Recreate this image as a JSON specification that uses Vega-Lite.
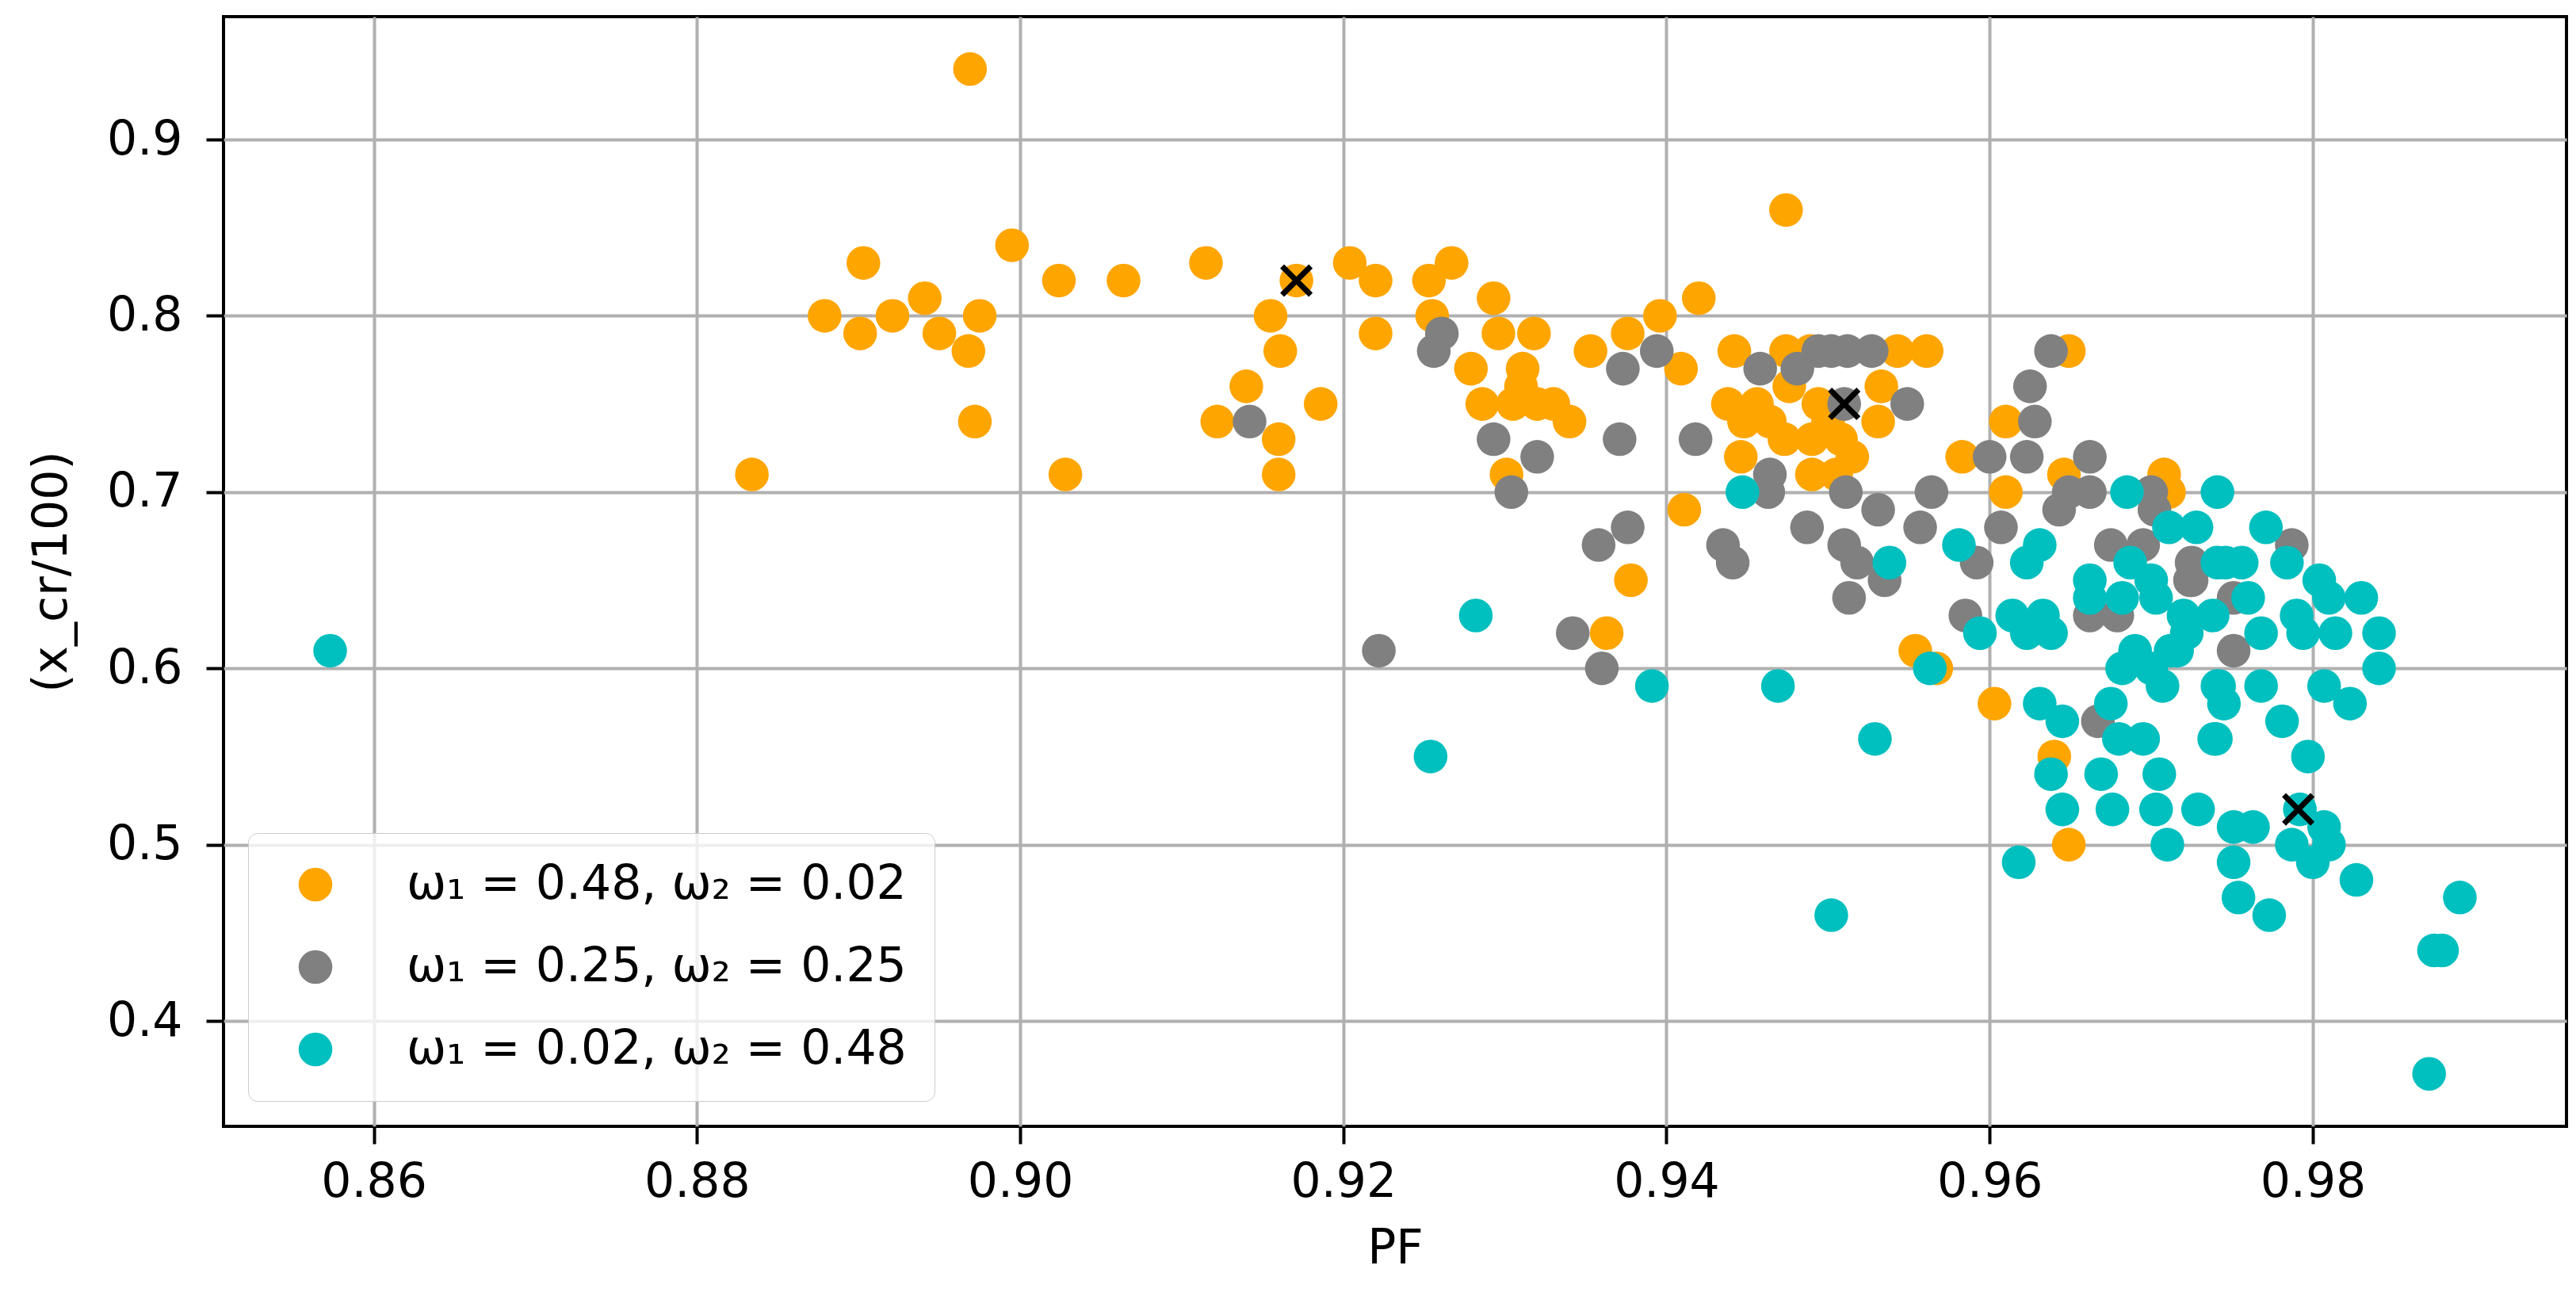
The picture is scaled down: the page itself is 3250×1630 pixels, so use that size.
{
  "$schema": "https://vega.github.io/schema/vega-lite/v6.json",
  "width": 2956,
  "height": 1400,
  "autosize": {"type": "none"},
  "padding": {"left": 282, "top": 21, "right": 12, "bottom": 209},
  "background": "white",
  "config": {
    "font": "DejaVu Sans",
    "view": {"stroke": "black", "strokeWidth": 4}
  },
  "datasets": {
    "pts": [
      {"w":"ω₁ = 0.48, ω₂ = 0.02","PF":0.8834,"x":0.71},{"w":"ω₁ = 0.48, ω₂ = 0.02","PF":0.8969,"x":0.94},{"w":"ω₁ = 0.48, ω₂ = 0.02","PF":0.8879,"x":0.80},{"w":"ω₁ = 0.48, ω₂ = 0.02","PF":0.8901,"x":0.79},{"w":"ω₁ = 0.48, ω₂ = 0.02","PF":0.8903,"x":0.83},{"w":"ω₁ = 0.48, ω₂ = 0.02","PF":0.8921,"x":0.80},{"w":"ω₁ = 0.48, ω₂ = 0.02","PF":0.8941,"x":0.81},{"w":"ω₁ = 0.48, ω₂ = 0.02","PF":0.8950,"x":0.79},{"w":"ω₁ = 0.48, ω₂ = 0.02","PF":0.8968,"x":0.78},{"w":"ω₁ = 0.48, ω₂ = 0.02","PF":0.8975,"x":0.80},{"w":"ω₁ = 0.48, ω₂ = 0.02","PF":0.8972,"x":0.74},{"w":"ω₁ = 0.48, ω₂ = 0.02","PF":0.8995,"x":0.84},{"w":"ω₁ = 0.48, ω₂ = 0.02","PF":0.9024,"x":0.82},{"w":"ω₁ = 0.48, ω₂ = 0.02","PF":0.9028,"x":0.71},{"w":"ω₁ = 0.48, ω₂ = 0.02","PF":0.9064,"x":0.82},{"w":"ω₁ = 0.48, ω₂ = 0.02","PF":0.9115,"x":0.83},{"w":"ω₁ = 0.48, ω₂ = 0.02","PF":0.9171,"x":0.82},{"w":"ω₁ = 0.48, ω₂ = 0.02","PF":0.9155,"x":0.80},{"w":"ω₁ = 0.48, ω₂ = 0.02","PF":0.9161,"x":0.78},{"w":"ω₁ = 0.48, ω₂ = 0.02","PF":0.9140,"x":0.76},{"w":"ω₁ = 0.48, ω₂ = 0.02","PF":0.9122,"x":0.74},{"w":"ω₁ = 0.48, ω₂ = 0.02","PF":0.9160,"x":0.73},{"w":"ω₁ = 0.48, ω₂ = 0.02","PF":0.9160,"x":0.71},{"w":"ω₁ = 0.48, ω₂ = 0.02","PF":0.9186,"x":0.75},{"w":"ω₁ = 0.48, ω₂ = 0.02","PF":0.9204,"x":0.83},{"w":"ω₁ = 0.48, ω₂ = 0.02","PF":0.9220,"x":0.82},{"w":"ω₁ = 0.48, ω₂ = 0.02","PF":0.9220,"x":0.79},{"w":"ω₁ = 0.48, ω₂ = 0.02","PF":0.9474,"x":0.86},
      {"w":"ω₁ = 0.48, ω₂ = 0.02","PF":0.9253,"x":0.82},{"w":"ω₁ = 0.48, ω₂ = 0.02","PF":0.9267,"x":0.83},{"w":"ω₁ = 0.48, ω₂ = 0.02","PF":0.9255,"x":0.80},{"w":"ω₁ = 0.48, ω₂ = 0.02","PF":0.9293,"x":0.81},{"w":"ω₁ = 0.48, ω₂ = 0.02","PF":0.9296,"x":0.79},{"w":"ω₁ = 0.48, ω₂ = 0.02","PF":0.9318,"x":0.79},{"w":"ω₁ = 0.48, ω₂ = 0.02","PF":0.9279,"x":0.77},{"w":"ω₁ = 0.48, ω₂ = 0.02","PF":0.9311,"x":0.77},{"w":"ω₁ = 0.48, ω₂ = 0.02","PF":0.9286,"x":0.75},{"w":"ω₁ = 0.48, ω₂ = 0.02","PF":0.9305,"x":0.75},{"w":"ω₁ = 0.48, ω₂ = 0.02","PF":0.9320,"x":0.75},{"w":"ω₁ = 0.48, ω₂ = 0.02","PF":0.9330,"x":0.75},{"w":"ω₁ = 0.48, ω₂ = 0.02","PF":0.9340,"x":0.74},{"w":"ω₁ = 0.48, ω₂ = 0.02","PF":0.9310,"x":0.76},{"w":"ω₁ = 0.48, ω₂ = 0.02","PF":0.9301,"x":0.71},{"w":"ω₁ = 0.48, ω₂ = 0.02","PF":0.9353,"x":0.78},{"w":"ω₁ = 0.48, ω₂ = 0.02","PF":0.9376,"x":0.79},{"w":"ω₁ = 0.48, ω₂ = 0.02","PF":0.9396,"x":0.80},{"w":"ω₁ = 0.48, ω₂ = 0.02","PF":0.9420,"x":0.81},{"w":"ω₁ = 0.48, ω₂ = 0.02","PF":0.9409,"x":0.77},{"w":"ω₁ = 0.48, ω₂ = 0.02","PF":0.9411,"x":0.69},{"w":"ω₁ = 0.48, ω₂ = 0.02","PF":0.9378,"x":0.65},{"w":"ω₁ = 0.48, ω₂ = 0.02","PF":0.9363,"x":0.62},
      {"w":"ω₁ = 0.48, ω₂ = 0.02","PF":0.9442,"x":0.78},{"w":"ω₁ = 0.48, ω₂ = 0.02","PF":0.9474,"x":0.78},{"w":"ω₁ = 0.48, ω₂ = 0.02","PF":0.9489,"x":0.78},{"w":"ω₁ = 0.48, ω₂ = 0.02","PF":0.9438,"x":0.75},{"w":"ω₁ = 0.48, ω₂ = 0.02","PF":0.9456,"x":0.75},{"w":"ω₁ = 0.48, ω₂ = 0.02","PF":0.9448,"x":0.74},{"w":"ω₁ = 0.48, ω₂ = 0.02","PF":0.9464,"x":0.74},{"w":"ω₁ = 0.48, ω₂ = 0.02","PF":0.9446,"x":0.72},{"w":"ω₁ = 0.48, ω₂ = 0.02","PF":0.9473,"x":0.73},{"w":"ω₁ = 0.48, ω₂ = 0.02","PF":0.9490,"x":0.73},{"w":"ω₁ = 0.48, ω₂ = 0.02","PF":0.9490,"x":0.71},{"w":"ω₁ = 0.48, ω₂ = 0.02","PF":0.9494,"x":0.75},{"w":"ω₁ = 0.48, ω₂ = 0.02","PF":0.9476,"x":0.76},{"w":"ω₁ = 0.48, ω₂ = 0.02","PF":0.9543,"x":0.78},{"w":"ω₁ = 0.48, ω₂ = 0.02","PF":0.9561,"x":0.78},{"w":"ω₁ = 0.48, ω₂ = 0.02","PF":0.9533,"x":0.76},{"w":"ω₁ = 0.48, ω₂ = 0.02","PF":0.9508,"x":0.73},{"w":"ω₁ = 0.48, ω₂ = 0.02","PF":0.9515,"x":0.72},{"w":"ω₁ = 0.48, ω₂ = 0.02","PF":0.9531,"x":0.74},{"w":"ω₁ = 0.48, ω₂ = 0.02","PF":0.9500,"x":0.74},{"w":"ω₁ = 0.48, ω₂ = 0.02","PF":0.9505,"x":0.71},
      {"w":"ω₁ = 0.48, ω₂ = 0.02","PF":0.9583,"x":0.72},{"w":"ω₁ = 0.48, ω₂ = 0.02","PF":0.9610,"x":0.74},{"w":"ω₁ = 0.48, ω₂ = 0.02","PF":0.9610,"x":0.70},{"w":"ω₁ = 0.48, ω₂ = 0.02","PF":0.9649,"x":0.78},{"w":"ω₁ = 0.48, ω₂ = 0.02","PF":0.9646,"x":0.71},{"w":"ω₁ = 0.48, ω₂ = 0.02","PF":0.9708,"x":0.71},{"w":"ω₁ = 0.48, ω₂ = 0.02","PF":0.9711,"x":0.70},{"w":"ω₁ = 0.48, ω₂ = 0.02","PF":0.9554,"x":0.61},{"w":"ω₁ = 0.48, ω₂ = 0.02","PF":0.9567,"x":0.60},{"w":"ω₁ = 0.48, ω₂ = 0.02","PF":0.9603,"x":0.58},{"w":"ω₁ = 0.48, ω₂ = 0.02","PF":0.9640,"x":0.55},{"w":"ω₁ = 0.48, ω₂ = 0.02","PF":0.9649,"x":0.50},
      {"w":"ω₁ = 0.25, ω₂ = 0.25","PF":0.9142,"x":0.74},{"w":"ω₁ = 0.25, ω₂ = 0.25","PF":0.9222,"x":0.61},{"w":"ω₁ = 0.25, ω₂ = 0.25","PF":0.9261,"x":0.79},{"w":"ω₁ = 0.25, ω₂ = 0.25","PF":0.9256,"x":0.78},{"w":"ω₁ = 0.25, ω₂ = 0.25","PF":0.9293,"x":0.73},{"w":"ω₁ = 0.25, ω₂ = 0.25","PF":0.9320,"x":0.72},{"w":"ω₁ = 0.25, ω₂ = 0.25","PF":0.9304,"x":0.70},{"w":"ω₁ = 0.25, ω₂ = 0.25","PF":0.9373,"x":0.77},{"w":"ω₁ = 0.25, ω₂ = 0.25","PF":0.9394,"x":0.78},{"w":"ω₁ = 0.25, ω₂ = 0.25","PF":0.9371,"x":0.73},{"w":"ω₁ = 0.25, ω₂ = 0.25","PF":0.9418,"x":0.73},{"w":"ω₁ = 0.25, ω₂ = 0.25","PF":0.9358,"x":0.67},{"w":"ω₁ = 0.25, ω₂ = 0.25","PF":0.9376,"x":0.68},{"w":"ω₁ = 0.25, ω₂ = 0.25","PF":0.9435,"x":0.67},{"w":"ω₁ = 0.25, ω₂ = 0.25","PF":0.9441,"x":0.66},{"w":"ω₁ = 0.25, ω₂ = 0.25","PF":0.9464,"x":0.71},{"w":"ω₁ = 0.25, ω₂ = 0.25","PF":0.9463,"x":0.70},{"w":"ω₁ = 0.25, ω₂ = 0.25","PF":0.9487,"x":0.68},{"w":"ω₁ = 0.25, ω₂ = 0.25","PF":0.9458,"x":0.77},{"w":"ω₁ = 0.25, ω₂ = 0.25","PF":0.9481,"x":0.77},{"w":"ω₁ = 0.25, ω₂ = 0.25","PF":0.9494,"x":0.78},{"w":"ω₁ = 0.25, ω₂ = 0.25","PF":0.9502,"x":0.78},{"w":"ω₁ = 0.25, ω₂ = 0.25","PF":0.9512,"x":0.78},{"w":"ω₁ = 0.25, ω₂ = 0.25","PF":0.9527,"x":0.78},{"w":"ω₁ = 0.25, ω₂ = 0.25","PF":0.9510,"x":0.75},{"w":"ω₁ = 0.25, ω₂ = 0.25","PF":0.9549,"x":0.75},{"w":"ω₁ = 0.25, ω₂ = 0.25","PF":0.9511,"x":0.70},{"w":"ω₁ = 0.25, ω₂ = 0.25","PF":0.9531,"x":0.69},{"w":"ω₁ = 0.25, ω₂ = 0.25","PF":0.9564,"x":0.70},{"w":"ω₁ = 0.25, ω₂ = 0.25","PF":0.9557,"x":0.68},{"w":"ω₁ = 0.25, ω₂ = 0.25","PF":0.9510,"x":0.67},{"w":"ω₁ = 0.25, ω₂ = 0.25","PF":0.9518,"x":0.66},{"w":"ω₁ = 0.25, ω₂ = 0.25","PF":0.9535,"x":0.65},{"w":"ω₁ = 0.25, ω₂ = 0.25","PF":0.9513,"x":0.64},{"w":"ω₁ = 0.25, ω₂ = 0.25","PF":0.9592,"x":0.66},{"w":"ω₁ = 0.25, ω₂ = 0.25","PF":0.9585,"x":0.63},{"w":"ω₁ = 0.25, ω₂ = 0.25","PF":0.9607,"x":0.68},{"w":"ω₁ = 0.25, ω₂ = 0.25","PF":0.9600,"x":0.72},{"w":"ω₁ = 0.25, ω₂ = 0.25","PF":0.9623,"x":0.72},{"w":"ω₁ = 0.25, ω₂ = 0.25","PF":0.9628,"x":0.74},{"w":"ω₁ = 0.25, ω₂ = 0.25","PF":0.9625,"x":0.76},{"w":"ω₁ = 0.25, ω₂ = 0.25","PF":0.9638,"x":0.78},{"w":"ω₁ = 0.25, ω₂ = 0.25","PF":0.9662,"x":0.72},{"w":"ω₁ = 0.25, ω₂ = 0.25","PF":0.9643,"x":0.69},{"w":"ω₁ = 0.25, ω₂ = 0.25","PF":0.9662,"x":0.70},{"w":"ω₁ = 0.25, ω₂ = 0.25","PF":0.9649,"x":0.70},{"w":"ω₁ = 0.25, ω₂ = 0.25","PF":0.9700,"x":0.70},{"w":"ω₁ = 0.25, ω₂ = 0.25","PF":0.9702,"x":0.69},{"w":"ω₁ = 0.25, ω₂ = 0.25","PF":0.9675,"x":0.67},{"w":"ω₁ = 0.25, ω₂ = 0.25","PF":0.9695,"x":0.67},{"w":"ω₁ = 0.25, ω₂ = 0.25","PF":0.9725,"x":0.65},{"w":"ω₁ = 0.25, ω₂ = 0.25","PF":0.9725,"x":0.66},{"w":"ω₁ = 0.25, ω₂ = 0.25","PF":0.9662,"x":0.63},{"w":"ω₁ = 0.25, ω₂ = 0.25","PF":0.9679,"x":0.63},{"w":"ω₁ = 0.25, ω₂ = 0.25","PF":0.9667,"x":0.57},{"w":"ω₁ = 0.25, ω₂ = 0.25","PF":0.9787,"x":0.67},{"w":"ω₁ = 0.25, ω₂ = 0.25","PF":0.9724,"x":0.65},{"w":"ω₁ = 0.25, ω₂ = 0.25","PF":0.9751,"x":0.64},{"w":"ω₁ = 0.25, ω₂ = 0.25","PF":0.9751,"x":0.61},{"w":"ω₁ = 0.25, ω₂ = 0.25","PF":0.9342,"x":0.62},{"w":"ω₁ = 0.25, ω₂ = 0.25","PF":0.9360,"x":0.60},
      {"w":"ω₁ = 0.02, ω₂ = 0.48","PF":0.8573,"x":0.61},{"w":"ω₁ = 0.02, ω₂ = 0.48","PF":0.9254,"x":0.55},{"w":"ω₁ = 0.02, ω₂ = 0.48","PF":0.9282,"x":0.63},{"w":"ω₁ = 0.02, ω₂ = 0.48","PF":0.9391,"x":0.59},{"w":"ω₁ = 0.02, ω₂ = 0.48","PF":0.9447,"x":0.70},{"w":"ω₁ = 0.02, ω₂ = 0.48","PF":0.9469,"x":0.59},{"w":"ω₁ = 0.02, ω₂ = 0.48","PF":0.9502,"x":0.46},{"w":"ω₁ = 0.02, ω₂ = 0.48","PF":0.9529,"x":0.56},{"w":"ω₁ = 0.02, ω₂ = 0.48","PF":0.9538,"x":0.66},{"w":"ω₁ = 0.02, ω₂ = 0.48","PF":0.9563,"x":0.60},{"w":"ω₁ = 0.02, ω₂ = 0.48","PF":0.9581,"x":0.67},{"w":"ω₁ = 0.02, ω₂ = 0.48","PF":0.9594,"x":0.62},{"w":"ω₁ = 0.02, ω₂ = 0.48","PF":0.9618,"x":0.49},{"w":"ω₁ = 0.02, ω₂ = 0.48","PF":0.9623,"x":0.66},{"w":"ω₁ = 0.02, ω₂ = 0.48","PF":0.9631,"x":0.67},{"w":"ω₁ = 0.02, ω₂ = 0.48","PF":0.9614,"x":0.63},{"w":"ω₁ = 0.02, ω₂ = 0.48","PF":0.9633,"x":0.63},{"w":"ω₁ = 0.02, ω₂ = 0.48","PF":0.9623,"x":0.62},{"w":"ω₁ = 0.02, ω₂ = 0.48","PF":0.9638,"x":0.62},{"w":"ω₁ = 0.02, ω₂ = 0.48","PF":0.9631,"x":0.58},{"w":"ω₁ = 0.02, ω₂ = 0.48","PF":0.9645,"x":0.57},{"w":"ω₁ = 0.02, ω₂ = 0.48","PF":0.9638,"x":0.54},{"w":"ω₁ = 0.02, ω₂ = 0.48","PF":0.9645,"x":0.52},{"w":"ω₁ = 0.02, ω₂ = 0.48","PF":0.9662,"x":0.65},{"w":"ω₁ = 0.02, ω₂ = 0.48","PF":0.9700,"x":0.65},{"w":"ω₁ = 0.02, ω₂ = 0.48","PF":0.9685,"x":0.70},{"w":"ω₁ = 0.02, ω₂ = 0.48","PF":0.9711,"x":0.68},{"w":"ω₁ = 0.02, ω₂ = 0.48","PF":0.9728,"x":0.68},{"w":"ω₁ = 0.02, ω₂ = 0.48","PF":0.9741,"x":0.70},{"w":"ω₁ = 0.02, ω₂ = 0.48","PF":0.9687,"x":0.66},{"w":"ω₁ = 0.02, ω₂ = 0.48","PF":0.9741,"x":0.66},{"w":"ω₁ = 0.02, ω₂ = 0.48","PF":0.9669,"x":0.54},{"w":"ω₁ = 0.02, ω₂ = 0.48","PF":0.9675,"x":0.58},{"w":"ω₁ = 0.02, ω₂ = 0.48","PF":0.9680,"x":0.56},{"w":"ω₁ = 0.02, ω₂ = 0.48","PF":0.9695,"x":0.56},{"w":"ω₁ = 0.02, ω₂ = 0.48","PF":0.9705,"x":0.54},{"w":"ω₁ = 0.02, ω₂ = 0.48","PF":0.9676,"x":0.52},{"w":"ω₁ = 0.02, ω₂ = 0.48","PF":0.9703,"x":0.52},{"w":"ω₁ = 0.02, ω₂ = 0.48","PF":0.9729,"x":0.52},{"w":"ω₁ = 0.02, ω₂ = 0.48","PF":0.9710,"x":0.50},{"w":"ω₁ = 0.02, ω₂ = 0.48","PF":0.9682,"x":0.60},{"w":"ω₁ = 0.02, ω₂ = 0.48","PF":0.9707,"x":0.59},{"w":"ω₁ = 0.02, ω₂ = 0.48","PF":0.9662,"x":0.64},{"w":"ω₁ = 0.02, ω₂ = 0.48","PF":0.9682,"x":0.64},{"w":"ω₁ = 0.02, ω₂ = 0.48","PF":0.9703,"x":0.64},{"w":"ω₁ = 0.02, ω₂ = 0.48","PF":0.9720,"x":0.63},{"w":"ω₁ = 0.02, ω₂ = 0.48","PF":0.9716,"x":0.61},{"w":"ω₁ = 0.02, ω₂ = 0.48","PF":0.9738,"x":0.63},{"w":"ω₁ = 0.02, ω₂ = 0.48","PF":0.9741,"x":0.59},{"w":"ω₁ = 0.02, ω₂ = 0.48","PF":0.9739,"x":0.56},{"w":"ω₁ = 0.02, ω₂ = 0.48","PF":0.9690,"x":0.61},{"w":"ω₁ = 0.02, ω₂ = 0.48","PF":0.9712,"x":0.61},{"w":"ω₁ = 0.02, ω₂ = 0.48","PF":0.9700,"x":0.60},{"w":"ω₁ = 0.02, ω₂ = 0.48","PF":0.9771,"x":0.68},{"w":"ω₁ = 0.02, ω₂ = 0.48","PF":0.9746,"x":0.66},{"w":"ω₁ = 0.02, ω₂ = 0.48","PF":0.9756,"x":0.66},{"w":"ω₁ = 0.02, ω₂ = 0.48","PF":0.9784,"x":0.66},{"w":"ω₁ = 0.02, ω₂ = 0.48","PF":0.9804,"x":0.65},{"w":"ω₁ = 0.02, ω₂ = 0.48","PF":0.9830,"x":0.64},{"w":"ω₁ = 0.02, ω₂ = 0.48","PF":0.9760,"x":0.64},{"w":"ω₁ = 0.02, ω₂ = 0.48","PF":0.9790,"x":0.63},{"w":"ω₁ = 0.02, ω₂ = 0.48","PF":0.9810,"x":0.64},{"w":"ω₁ = 0.02, ω₂ = 0.48","PF":0.9768,"x":0.62},{"w":"ω₁ = 0.02, ω₂ = 0.48","PF":0.9722,"x":0.62},{"w":"ω₁ = 0.02, ω₂ = 0.48","PF":0.9794,"x":0.62},{"w":"ω₁ = 0.02, ω₂ = 0.48","PF":0.9814,"x":0.62},{"w":"ω₁ = 0.02, ω₂ = 0.48","PF":0.9841,"x":0.62},{"w":"ω₁ = 0.02, ω₂ = 0.48","PF":0.9841,"x":0.60},{"w":"ω₁ = 0.02, ω₂ = 0.48","PF":0.9742,"x":0.59},{"w":"ω₁ = 0.02, ω₂ = 0.48","PF":0.9768,"x":0.59},{"w":"ω₁ = 0.02, ω₂ = 0.48","PF":0.9745,"x":0.58},{"w":"ω₁ = 0.02, ω₂ = 0.48","PF":0.9781,"x":0.57},{"w":"ω₁ = 0.02, ω₂ = 0.48","PF":0.9807,"x":0.59},{"w":"ω₁ = 0.02, ω₂ = 0.48","PF":0.9823,"x":0.58},{"w":"ω₁ = 0.02, ω₂ = 0.48","PF":0.9740,"x":0.56},{"w":"ω₁ = 0.02, ω₂ = 0.48","PF":0.9797,"x":0.55},{"w":"ω₁ = 0.02, ω₂ = 0.48","PF":0.9751,"x":0.51},{"w":"ω₁ = 0.02, ω₂ = 0.48","PF":0.9763,"x":0.51},{"w":"ω₁ = 0.02, ω₂ = 0.48","PF":0.9807,"x":0.51},{"w":"ω₁ = 0.02, ω₂ = 0.48","PF":0.9787,"x":0.50},{"w":"ω₁ = 0.02, ω₂ = 0.48","PF":0.9810,"x":0.50},{"w":"ω₁ = 0.02, ω₂ = 0.48","PF":0.9751,"x":0.49},{"w":"ω₁ = 0.02, ω₂ = 0.48","PF":0.9800,"x":0.49},{"w":"ω₁ = 0.02, ω₂ = 0.48","PF":0.9754,"x":0.47},{"w":"ω₁ = 0.02, ω₂ = 0.48","PF":0.9773,"x":0.46},{"w":"ω₁ = 0.02, ω₂ = 0.48","PF":0.9827,"x":0.48},{"w":"ω₁ = 0.02, ω₂ = 0.48","PF":0.9891,"x":0.47},{"w":"ω₁ = 0.02, ω₂ = 0.48","PF":0.9880,"x":0.44},{"w":"ω₁ = 0.02, ω₂ = 0.48","PF":0.9875,"x":0.44},{"w":"ω₁ = 0.02, ω₂ = 0.48","PF":0.9872,"x":0.37},{"w":"ω₁ = 0.02, ω₂ = 0.48","PF":0.9792,"x":0.52}
    ],
    "best": [
      {"PF":0.9171,"x":0.82},{"PF":0.9510,"x":0.75},{"PF":0.9791,"x":0.52}
    ]
  },
  "layer": [
    {
      "data": {"name": "pts"},
      "mark": {"type": "point", "filled": true, "opacity": 1, "size": 1810, "strokeWidth": 0},
      "encoding": {
        "x": {
          "field": "PF", "type": "quantitative",
          "scale": {"domain": [0.8507, 0.9957], "nice": false, "zero": false},
          "axis": {
            "title": "PF", "values": [0.86, 0.88, 0.90, 0.92, 0.94, 0.96, 0.98], "format": ".2f",
            "domain": false, "grid": true, "gridColor": "#b0b0b0", "gridWidth": 4, "gridOpacity": 1,
            "ticks": true, "tickSize": 22, "tickWidth": 4, "tickColor": "black",
            "labelFontSize": 60, "labelColor": "black", "labelPadding": 19, "labelFont": "DejaVu Sans",
            "titleFontSize": 60, "titleFontWeight": "normal", "titleColor": "black", "titlePadding": 25, "titleFont": "DejaVu Sans",
            "zindex": 0
          }
        },
        "y": {
          "field": "x", "type": "quantitative",
          "scale": {"domain": [0.3402, 0.9697], "nice": false, "zero": false},
          "axis": {
            "title": "(x_cr/100)", "values": [0.4, 0.5, 0.6, 0.7, 0.8, 0.9], "format": ".1f",
            "domain": false, "grid": true, "gridColor": "#b0b0b0", "gridWidth": 4, "gridOpacity": 1,
            "ticks": true, "tickSize": 22, "tickWidth": 4, "tickColor": "black",
            "labelFontSize": 60, "labelColor": "black", "labelPadding": 30, "labelFont": "DejaVu Sans",
            "titleFontSize": 60, "titleFontWeight": "normal", "titleColor": "black", "titlePadding": 38, "titleFont": "DejaVu Sans",
            "zindex": 0
          }
        },
        "color": {
          "field": "w", "type": "nominal",
          "scale": {
            "domain": ["ω₁ = 0.48, ω₂ = 0.02", "ω₁ = 0.25, ω₂ = 0.25", "ω₁ = 0.02, ω₂ = 0.48"],
            "range": ["#FFA500", "#808080", "#00BFBF"]
          },
          "legend": {
            "title": null, "orient": "none", "legendX": 31, "legendY": 1030,
            "labelFontSize": 60, "labelFont": "DejaVu Sans", "labelColor": "black",
            "symbolType": "circle", "symbolSize": 1810, "symbolStrokeWidth": 0, "symbolOpacity": 1,
            "padding": 35, "rowPadding": 44, "symbolOffset": 20, "labelOffset": 85,
            "strokeColor": "#cccccc", "fillColor": "rgba(255,255,255,0.8)", "cornerRadius": 12,
            "labelLimit": 2000
          }
        }
      }
    },
    {
      "data": {"name": "best"},
      "mark": {"type": "point", "shape": "M-1,-1L1,1M1,-1L-1,1", "filled": false, "stroke": "black", "strokeWidth": 7, "size": 1300, "opacity": 1},
      "encoding": {
        "x": {"field": "PF", "type": "quantitative"},
        "y": {"field": "x", "type": "quantitative"}
      }
    }
  ]
}
